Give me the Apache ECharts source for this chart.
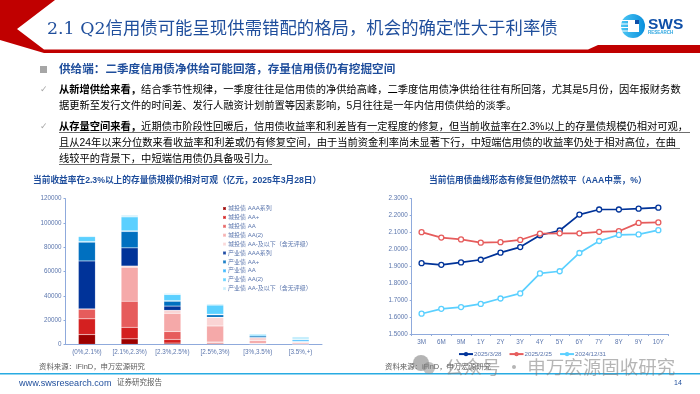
<!DOCTYPE html>
<html><head><meta charset="utf-8">
<style>html,body{margin:0;padding:0;background:#fff}#c{width:700px;height:394px}</style>
<script src="https://cdn.jsdelivr.net/npm/echarts@6/dist/echarts.min.js"></script>
</head><body><div id="c"></div>
<script>
var CM='\uFF0C', CL='\uFF1A', LP='\uFF08', RP='\uFF09', PD='\u3002';
var stockCats = ['(0%,2.1%)','[2.1%,2.3%)','[2.3%,2.5%)','[2.5%,3%)','[3%,3.5%)','[3.5%,+)'];
var stockNames = ['城投债 AAA系列','城投债 AA+','城投债 AA','城投债 AA(2)','城投债 AA-及以下'+LP+'含无评级'+RP,'产业债 AAA系列','产业债 AA+','产业债 AA','产业债 AA(2)','产业债 AA-及以下'+LP+'含无评级'+RP];
var stockColors = ['#9c0000','#d42020','#e65c5c','#f5a9a9','#fad4d4','#003399','#0070c0','#33b5ff','#5bd0ff','#c5eefc'];
var ctAAA = [8000,4500,1000,600,100,50];
var ctAAp = [13000,9500,3000,700,200,100];
var ctAA = [8000,21500,6500,600,500,150];
var ctAA2 = [100,28000,15000,13200,2200,1000];
var ctAAm = [100,1000,2500,7000,2500,800];
var cyAAA = [39500,15000,3500,200,100,50];
var cyAAp = [15500,13500,4000,2000,1300,200];
var cyAA = [500,500,500,500,100,1300];
var cyAA2 = [4000,11500,5000,7500,1200,100];
var cyAAm = [800,1500,1000,1000,500,2500];
var stockData = [ctAAA,ctAAp,ctAA,ctAA2,ctAAm,cyAAA,cyAAp,cyAA,cyAA2,cyAAm];

var tenors = ['3M','6M','9M','1Y','2Y','3Y','4Y','5Y','6Y','7Y','8Y','9Y','10Y'];
var y20250328 = [1.919,1.909,1.923,1.939,1.981,2.014,2.084,2.112,2.206,2.236,2.236,2.241,2.247];
var y20250225 = [2.102,2.070,2.059,2.040,2.043,2.056,2.094,2.095,2.095,2.104,2.108,2.157,2.160];
var y20241231 = [1.620,1.649,1.659,1.678,1.710,1.740,1.858,1.871,1.979,2.050,2.086,2.089,2.114];
var lineNames = ['2025/3/28','2025/2/25','2024/12/31'];
var lineColors = ['#003399','#e65c5c','#5bd0ff'];
var lineData = [y20250328,y20250225,y20241231];

var titleText = '2.1 Q2信用债可能呈现供需错配的格局'+CM+'机会的确定性大于利率债';
var headText = '供给端'+CL+'二季度信用债净供给可能回落'+CM+'存量信用债仍有挖掘空间';
var b1 = '从新增供给来看'+CM;
var p1a = '结合季节性规律'+CM+'一季度往往是信用债的净供给高峰'+CM+'二季度信用债净供给往往有所回落'+CM+'尤其是5月份'+CM+'因年报财务数';
var p1b = '据更新至发行文件的时间差、发行人融资计划前置等因素影响'+CM+'5月往往是一年内信用债供给的淡季'+PD;
var b2 = '从存量空间来看'+CM;
var p2a = '近期债市阶段性回暖后'+CM+'信用债收益率和利差皆有一定程度的修复'+CM+'但当前收益率在2.3%以上的存量债规模仍相对可观'+CM;
var p2b = '且从24年以来分位数来看收益率和利差或仍有修复空间'+CM+'由于当前资金利率尚未显著下行'+CM+'中短端信用债的收益率仍处于相对高位'+CM+'在曲';
var p2c = '线较平的背景下'+CM+'中短端信用债仍具备吸引力'+PD;
var srcText = '资料来源'+CL+'iFinD'+CM+'申万宏源研究';
var titleL = '当前收益率在2.3%以上的存量债规模仍相对可观'+LP+'亿元'+CM+'2025年3月28日'+RP;
var titleR = '当前信用债曲线形态有修复但仍然较平'+LP+'AAA中票'+CM+'%'+RP;
var cjk = '"Liberation Sans","Noto Sans CJK SC",sans-serif';
var axisCol = '#8faadc', labCol = '#5b76ad', txt = '#404040';

function t(x,y,text,size,color,extra){
  extra = extra || {};
  return {type:'text',x:x,y:y,z:extra.z||5,style:{text:text,font:(extra.weight||'normal')+' '+size+'px '+(extra.family||cjk),fill:color,textVerticalAlign:'middle',textAlign:extra.align||'left'}};
}
function bodyLine(x,y,b,r){
  return {type:'text',x:x,y:y,z:5,style:{text:(b?'{b|'+b+'}':'')+'{r|'+r+'}',textVerticalAlign:'middle',rich:{
    b:{fontFamily:cjk,fontSize:10.28,fontWeight:'bold',color:'#1a1a1a'},
    r:{fontFamily:cjk,fontSize:10.28,color:txt}}}};
}
function ul(x1,x2,y){return {type:'line',z:4,shape:{x1:x1,y1:y,x2:x2,y2:y},style:{stroke:'#6e6e6e',lineWidth:1}};}
function stripe(x,y,w){return {type:'rect',z:3,shape:{x:x,y:y,width:w,height:1},style:{fill:'#fff'}};}

var graphics = [
 {type:'polygon',shape:{points:[[0,0],[55,0],[17,29],[44,49.5],[588,49.5],[598,45],[700,45],[700,53],[44,53],[0,40]]},style:{fill:'#c00000'}},
 t(47,29,titleText,17.4,'#1f4e9c',{family:'"DejaVu Serif","Noto Sans CJK SC",serif'}),
 {type:'circle',z:2,shape:{cx:633,cy:26,r:12},style:{fill:{type:'linear',x:0,y:0,x2:1,y2:0,colorStops:[{offset:0,color:'#4cc7f4'},{offset:1,color:'#0a8fdc'}]}}},
 stripe(621,20,7),stripe(621,23.5,7),stripe(621,27,7),stripe(621,30.5,7),
 {type:'rect',z:3,shape:{x:628,y:20,width:11,height:12},style:{fill:'#fff'}},
 {type:'rect',z:3,shape:{x:635,y:20,width:4,height:4},style:{fill:'#0f4fa8'}},
 t(648,25,'SWS',15.5,'#0f4fa8',{weight:'bold'}),
 t(648,33,'RESEARCH',4.5,'#2aa5e0',{weight:'bold'}),
 {type:'rect',shape:{x:40,y:66,width:7,height:7},style:{fill:'#a6a6a6'}},
 t(59,69.5,headText,11.6,'#1f4e9c',{weight:'bold'}),
 t(40,90,'✓',9,'#a6a6a6',{family:'"DejaVu Sans",sans-serif'}),
 bodyLine(59,90,b1,p1a),
 bodyLine(59,106,'',p1b),
 t(40,127,'✓',9,'#a6a6a6',{family:'"DejaVu Sans",sans-serif'}),
 bodyLine(59,127,b2,p2a),
 bodyLine(59,143,'',p2b),
 bodyLine(59,159,'',p2c),
 ul(59,690,132.5),ul(59,680,148.5),ul(59,272,164.5),
 t(39,367,srcText,7.4,'#595959'),
 t(385,367,srcText,7.4,'#595959'),
 {type:'rect',shape:{x:0,y:373,width:700,height:1.5},style:{fill:'#29abe2'}},
 t(19,383.5,'www.swsresearch.com',9.1,'#1f4e9c'),
 t(117,382.5,'证券研究报告',7.5,'#595959'),
 t(674,383,'14',7,'#1f4e9c'),
 {type:'circle',z:8,shape:{cx:421,cy:363,r:8},style:{fill:'rgba(130,130,130,0.6)'}},
 {type:'circle',z:8,shape:{cx:429,cy:368,r:6},style:{fill:'rgba(130,130,130,0.5)'}},
 t(445,367,'公众号 · 申万宏源固收研究',18.5,'rgba(120,120,120,0.55)',{z:9,family:'"Noto Sans CJK SC",sans-serif'})
];

var series = [];
stockData.forEach(function(d,i){
  series.push({name:stockNames[i],type:'bar',stack:'s',xAxisIndex:0,yAxisIndex:0,data:d,barWidth:17,
    itemStyle:{color:stockColors[i],borderColor:'rgba(255,255,255,0.25)',borderWidth:0.5}});
});
lineData.forEach(function(d,i){
  series.push({name:lineNames[i],type:'line',xAxisIndex:1,yAxisIndex:1,data:d,symbol:'circle',symbolSize:5,showSymbol:true,
    lineStyle:{color:lineColors[i],width:1.7},
    itemStyle:{color:'#fff',borderColor:lineColors[i],borderWidth:1.3}});
});

var chart = echarts.init(document.getElementById('c'),null,{renderer:'canvas'});
chart.setOption({
  animation:false,
  textStyle:{fontFamily:cjk},
  title:[
    {text:titleL,left:33,top:176.5,padding:0,textStyle:{fontSize:8.7,fontWeight:'bold',color:'#1f4e9c',fontFamily:cjk}},
    {text:titleR,left:429,top:176.5,padding:0,textStyle:{fontSize:8.7,fontWeight:'bold',color:'#1f4e9c',fontFamily:cjk}}
  ],
  grid:[
    {left:65.5,top:198.7,width:256.5,height:145.6},
    {left:411.7,top:198.7,width:256.5,height:135.3}
  ],
  xAxis:[
    {type:'category',gridIndex:0,data:stockCats,axisLine:{lineStyle:{color:axisCol,width:1}},axisTick:{show:false},axisLabel:{color:labCol,fontSize:6.3,margin:5,interval:0,fontFamily:cjk}},
    {type:'category',gridIndex:1,data:tenors,axisLine:{lineStyle:{color:axisCol,width:1}},axisTick:{show:true,length:2,lineStyle:{color:axisCol}},axisLabel:{color:labCol,fontSize:6.3,margin:5,interval:0,fontFamily:cjk}}
  ],
  yAxis:[
    {type:'value',gridIndex:0,min:0,max:120000,interval:20000,splitLine:{show:false},axisLine:{show:true,lineStyle:{color:axisCol}},axisTick:{show:true,length:2,lineStyle:{color:axisCol}},axisLabel:{color:labCol,fontSize:6.3,margin:4,fontFamily:cjk,formatter:function(v){return String(v);}}},
    {type:'value',gridIndex:1,min:1.5,max:2.3,interval:0.1,splitLine:{show:false},axisLine:{show:true,lineStyle:{color:axisCol}},axisTick:{show:true,length:2,lineStyle:{color:axisCol}},axisLabel:{color:labCol,fontSize:6.3,margin:4,fontFamily:cjk,formatter:function(v){return v.toFixed(4);}}}
  ],
  legend:[
    {orient:'vertical',left:222,top:204.5,padding:0,data:stockNames,icon:'rect',itemWidth:3,itemHeight:3,itemGap:0.9,textStyle:{fontSize:6,color:labCol,lineHeight:8,padding:[0,0,0,-3],fontFamily:cjk}},
    {orient:'horizontal',left:458,top:351,padding:0,data:lineNames,itemWidth:14,itemHeight:3,itemGap:7,textStyle:{fontSize:6.2,color:labCol,padding:[0,0,0,-4],fontFamily:cjk}}
  ],
  series:series,
  graphic:graphics
});
</script></body></html>
